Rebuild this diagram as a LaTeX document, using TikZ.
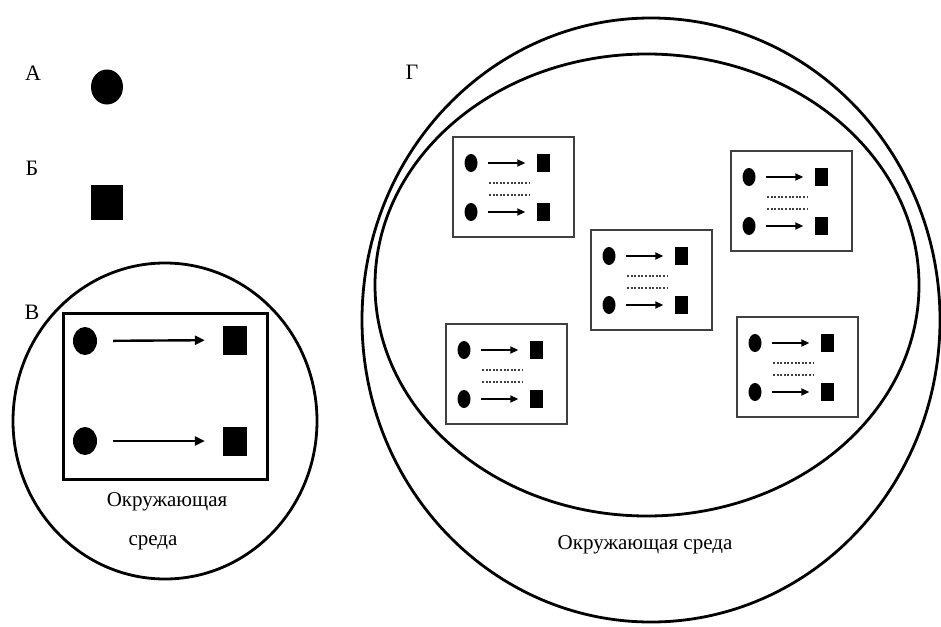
\documentclass[tikz,border=0pt]{standalone}
\usepackage{fontspec}
\setmainfont{Liberation Serif}
\usetikzlibrary{shapes.geometric,arrows.meta}
\tikzset{
  lbl/.style={font=\fontsize{21}{24}\selectfont, inner sep=0pt},
  letterlbl/.style={font=\fontsize{22}{24}\selectfont, inner sep=0pt},
  env/.style={draw, ellipse, line width=2.8pt, inner sep=0pt},
  blob/.style={fill=black, ellipse, inner sep=0pt, minimum width=13pt, minimum height=18pt},
  sq/.style={fill=black, rectangle, inner sep=0pt, minimum width=13pt, minimum height=18pt},
  bigblob/.style={fill=black, ellipse, inner sep=0pt, minimum width=24pt, minimum height=28pt},
  bigsq/.style={fill=black, rectangle, inner sep=0pt, minimum width=24pt, minimum height=29pt},
  cellbox/.style={draw=black!75, line width=1.8pt, rectangle, inner sep=0pt, minimum width=121pt, minimum height=100pt},
  flow/.style={line width=1.8pt, -{Triangle[length=8pt,width=7pt]}, shorten <=10pt, shorten >=11pt},
  bigflow/.style={line width=2.4pt, -{Triangle[length=10pt,width=9pt]}, shorten <=16pt, shorten >=18pt},
  dots/.style={black!75, line width=1.1pt, dash pattern=on 2pt off 1.6pt},
  cell/.pic={
    \node[cellbox] (-frame) at (60.5,50) {};
    \node[blob] (-c1) at (18,26) {};
    \node[sq] (-s1) at (90,26) {};
    \node[blob] (-c2) at (18,75) {};
    \node[sq] (-s2) at (90,75) {};
    \draw[flow] (-c1) -- (-s1);
    \draw[flow] (-c2) -- (-s2);
    \coordinate (-d1a) at (36,46); \coordinate (-d1b) at (76,46);
    \coordinate (-d2a) at (36,58); \coordinate (-d2b) at (76,58);
    \draw[dots] (-d1a) -- (-d1b);
    \draw[dots] (-d2a) -- (-d2b);
  }
}
\begin{document}
\begin{tikzpicture}[x=1pt,y=-1pt]
\useasboundingbox (0,0) rectangle (941,626);
% A and B
\node[letterlbl] (la) at (33,73) {А};
\node[fill=black, ellipse, inner sep=0pt, minimum width=32pt, minimum height=35pt] (adot) at (107,87) {};
\node[letterlbl] (lb) at (32,168) {Б};
\node[fill=black, rectangle, inner sep=0pt, minimum width=32pt, minimum height=35pt] (bsq) at (107,202) {};
% V
\node[env, minimum width=304pt, minimum height=316pt] (venv) at (165,421) {};
\node[letterlbl, fill=white, inner sep=1pt] (lv) at (32,312) {В};
\node[draw, line width=3pt, rectangle, inner sep=0pt, minimum width=204pt, minimum height=166pt] (vbox) at (165,396) {};
\node[bigblob] (vc1) at (85,341) {};
\node[bigsq] (vs1) at (235,340) {};
\node[bigblob] (vc2) at (85,441) {};
\node[bigsq] (vs2) at (235,441) {};
\draw[bigflow] (vc1) -- (vs1);
\draw[bigflow] (vc2) -- (vs2);
\node[lbl] (venvt1) at (167,502) {Окружающая};
\node[lbl] (venvt2) at (153,543) {среда};
% G
\node[letterlbl] (lg) at (412,72) {Г};
\node[env, minimum width=578pt, minimum height=604pt] (gouter) at (651,320) {};
\node[env, minimum width=544pt, minimum height=462pt] (ginner) at (647,285) {};
\pic (b1) at (453,137) {cell};
\pic (b2) at (591,230) {cell};
\pic (b3) at (731,151) {cell};
\pic (b4) at (446,324) {cell};
\pic (b5) at (737,317) {cell};
\node[lbl] (genvt) at (645,545) {Окружающая среда};
\end{tikzpicture}
\end{document}
